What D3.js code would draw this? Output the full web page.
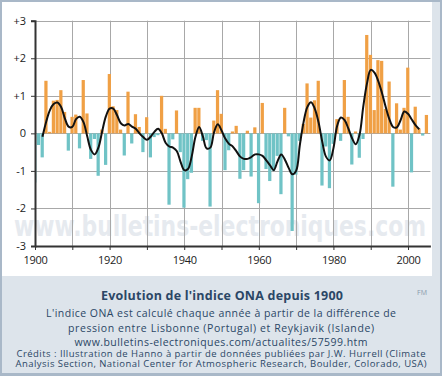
<!DOCTYPE html>
<html>
<head>
<meta charset="utf-8">
<script src="https://cdn.jsdelivr.net/npm/d3@7"></script>
<style>
  body { margin: 0; background: #fff; }
  svg { display: block; }
</style>
</head>
<body>
<div id="chart"></div>
<script>
// Indice ONA d'hiver, une valeur par an de 1900 a 2005
const firstYear = 1900;
const naoValues = [
  -1.31, -0.31, -0.64, 1.40, 0.04, 0.87, 0.89, 1.15, 0.57, -0.46,   // 1900-1909
  0.44, 0.50, -0.40, 1.42, 0.53, -0.68, -0.15, -1.13, 0.10, -0.84,  // 1910-1919
  1.58, 0.72, 0.62, 0.10, -0.59, 1.11, -0.27, 0.51, 0.17, -0.50,    // 1920-1929
  0.43, -0.64, -0.10, -0.05, 1.00, 0.12, -1.90, -0.16, 0.61, -0.50, // 1930-1939
  -1.98, -1.22, -1.05, 0.68, 0.68, -0.20, -0.18, -1.95, 0.34, 1.15, // 1940-1949
  0.52, -0.98, -0.45, 0.05, 0.20, -1.21, -0.98, 0.07, -1.15, 0.16,  // 1950-1959
  -1.86, 0.81, -0.95, -1.27, -1.00, -0.60, -1.62, 0.68, -0.08, -2.60, // 1960-1969
  -1.10, -0.20, 0.25, 1.33, 0.42, 0.88, 1.40, -1.39, -0.35, -1.46,  // 1970-1979
  -0.28, 0.38, -0.20, 1.42, 0.44, -0.83, 0.05, -0.65, -0.15, 2.62,  // 1980-1989
  2.09, 0.62, 1.95, 1.93, 0.65, 1.38, -1.42, 0.80, 0.10, 0.68,      // 1990-1999
  1.75, -1.04, 0.71, 0.13, -0.06, 0.49                              // 2000-2005
];

// Courbe lissee, 1902 a 2003
const smoothStart = 1902;
const smoothValues = [
  -0.09, 0.31, 0.62, 0.78, 0.82, 0.70, 0.40, 0.18,                  // 1902-1909
  0.17, 0.38, 0.44, 0.30, -0.08, -0.44, -0.56, -0.38, 0.05, 0.45,   // 1910-1919
  0.66, 0.66, 0.48, 0.27, 0.21, 0.25, 0.18, 0.12, 0.00, -0.10,      // 1920-1929
  -0.17, -0.09, 0.04, 0.12, 0.00, -0.25, -0.35, -0.38, -0.47, -0.75, // 1930-1939
  -0.98, -0.95, -0.62, -0.10, 0.17, -0.08, -0.40, -0.38, 0.03, 0.24, // 1940-1949
  0.08, -0.14, -0.28, -0.35, -0.48, -0.62, -0.68, -0.68, -0.63, -0.56, // 1950-1959
  -0.56, -0.60, -0.72, -0.85, -0.98, -0.75, -0.56, -0.70, -0.92, -1.09, // 1960-1969
  -1.00, -0.31, 0.30, 0.70, 0.83, 0.66, 0.30, -0.22, -0.62, -0.72,  // 1970-1979
  -0.40, 0.20, 0.42, 0.35, 0.13, -0.13, -0.29, -0.04, 0.71, 1.33,   // 1980-1989
  1.69, 1.62, 1.40, 1.08, 0.71, 0.38, 0.17, 0.16, 0.35, 0.58,       // 1990-1999
  0.52, 0.37, 0.22, 0.11                                            // 2000-2003
];

const yTicks = [-3, -2, -1, 0, 1, 2, 3];
const xTicks = [1900, 1910, 1920, 1930, 1940, 1950, 1960, 1970, 1980, 1990, 2000];
const xLabelYears = [1900, 1920, 1940, 1960, 1980, 2000];

const titleText = "Evolution de l'indice ONA depuis 1900";
const captionLines = [
  "L'indice ONA est calculé chaque année à partir de la différence de",
  "pression entre Lisbonne (Portugal) et Reykjavik (Islande)",
  "www.bulletins-electroniques.com/actualites/57599.htm",
  "Crédits : Illustration de Hanno à partir de données publiées par J.W. Hurrell (Climate",
  "Analysis Section, National Center for Atmospheric Research, Boulder, Colorado, USA)"
];

const width = 442, height = 376;
const plot = {left: 35, right: 430.4, top: 20.7, bottom: 246};

const svg = d3.select('#chart').append('svg')
    .attr('width', width)
    .attr('height', height);

// Cadre et fonds
svg.append('rect').attr('width', width).attr('height', height).attr('fill', '#a9b8c8');
svg.append('rect').attr('x', 2).attr('y', 2).attr('width', width - 4).attr('height', height - 5)
    .attr('fill', '#dde4eb');
svg.append('rect').attr('x', 2).attr('y', 2).attr('width', 430).attr('height', 274)
    .attr('fill', '#ffffff');

const x = d3.scaleLinear().domain([1900, 2006]).range([plot.left, plot.right]);
const y = d3.scaleLinear().domain([-3, 3]).range([plot.bottom, plot.top]);

// Filigrane
svg.append('text')
    .attr('x', 14).attr('y', 236)
    .attr('textLength', 412)
    .attr('lengthAdjust', 'spacingAndGlyphs')
    .style('font-family', 'DejaVu Sans, Verdana, sans-serif')
    .style('font-weight', 'bold')
    .style('font-size', '28.5px')
    .attr('fill', '#e6eaef')
    .text('www.bulletins-electroniques.com');

// Grille
const grid = svg.append('g').attr('stroke', '#a8a8a8').attr('stroke-width', 1);
grid.selectAll('.h').data(yTicks.filter(d => d > -3)).join('line')
    .attr('x1', plot.left).attr('x2', plot.right)
    .attr('y1', d => Math.round(y(d)) + 0.5).attr('y2', d => Math.round(y(d)) + 0.5);
grid.selectAll('.v').data(xTicks.filter(d => d > 1900)).join('line')
    .attr('x1', d => Math.round(x(d)) + 0.5).attr('x2', d => Math.round(x(d)) + 0.5)
    .attr('y1', plot.top).attr('y2', plot.bottom);

// Barres
const step = x(1901) - x(1900);
svg.append('clipPath').attr('id', 'plot-clip').append('rect')
    .attr('x', plot.left).attr('y', plot.top)
    .attr('width', plot.right - plot.left).attr('height', plot.bottom - plot.top);

svg.append('g').attr('clip-path', 'url(#plot-clip)')
  .selectAll('rect')
    .data(naoValues)
  .join('rect')
    .attr('x', (d, i) => x(firstYear + i) - step / 2)
    .attr('width', step - 0.5)
    .attr('y', d => y(Math.max(0, d)))
    .attr('height', d => Math.abs(y(d) - y(0)))
    .attr('fill', d => d >= 0 ? '#f0a045' : '#70c3c6');

// Courbe lissee
const line = d3.line()
    .x((d, i) => x(smoothStart + i))
    .y(d => y(d))
    .curve(d3.curveCatmullRom);

svg.append('path')
    .datum(smoothValues)
    .attr('fill', 'none')
    .attr('stroke', '#111')
    .attr('stroke-width', 2)
    .attr('stroke-linejoin', 'round')
    .attr('d', line);

// Axes
const axisFont = 'Open Sans, sans-serif';

const yAxis = svg.append('g')
    .attr('transform', `translate(${plot.left},0)`)
    .call(d3.axisLeft(y).tickValues(yTicks).tickSize(4).tickPadding(5)
      .tickFormat(d => d > 0 ? '+' + d : d));
yAxis.select('.domain').attr('stroke', '#333').attr('stroke-width', 2);
yAxis.selectAll('.tick line').attr('stroke', '#333');
yAxis.selectAll('text').style('font-family', axisFont).style('font-size', '11px').attr('fill', '#222');

const xAxis = svg.append('g')
    .attr('transform', `translate(0,${plot.bottom})`)
    .call(d3.axisBottom(x).tickValues(xTicks).tickSizeInner(4).tickSizeOuter(0).tickPadding(6)
      .tickFormat(d => xLabelYears.includes(d) ? d : ''));
xAxis.select('.domain').attr('stroke', '#333').attr('stroke-width', 2);
xAxis.selectAll('.tick line').attr('stroke', '#333');
xAxis.selectAll('text').style('font-family', axisFont).style('font-size', '11px')
    .attr('fill', '#222').attr('letter-spacing', '-0.3px');

// Legende du bas
const captionColor = '#2b4766';
svg.append('text')
    .attr('x', 222).attr('y', 299.5)
    .attr('text-anchor', 'middle')
    .attr('textLength', 242)
    .style('font-family', axisFont).style('font-weight', 'bold').style('font-size', '12.5px')
    .attr('fill', captionColor)
    .text(titleText);

svg.append('text')
    .attr('x', 422).attr('y', 295)
    .attr('text-anchor', 'middle')
    .style('font-family', axisFont).style('font-size', '7px')
    .attr('fill', '#8a9aab')
    .text('FM');

// largeurs des lignes mesurees sur l'original
const captionY = [317, 332, 345.5, 356.5, 367];
const captionSize = [10.5, 10.5, 10.5, 9.5, 9.5];
const captionWidth = [350, 306, 293, 409, 411];
svg.selectAll('.caption').data(captionLines).join('text')
    .attr('class', 'caption')
    .attr('x', 221)
    .attr('y', (d, i) => captionY[i])
    .attr('text-anchor', 'middle')
    .attr('textLength', (d, i) => captionWidth[i])
    .style('font-family', axisFont)
    .style('font-size', (d, i) => captionSize[i] + 'px')
    .attr('fill', captionColor)
    .text(d => d);
</script>
</body>
</html>
